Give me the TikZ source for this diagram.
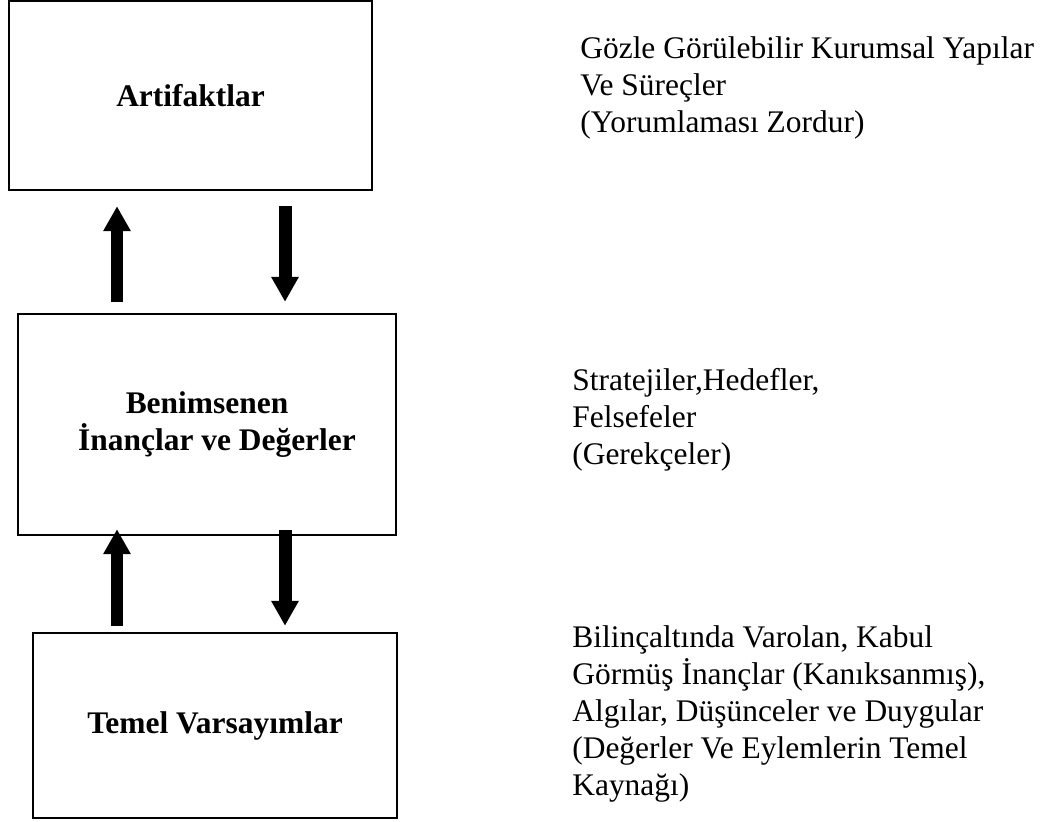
\documentclass[tikz,border=0pt]{standalone}
\usepackage{fontspec}
\setmainfont{Liberation Serif}
\usetikzlibrary{arrows.meta}

\begin{document}
\begin{tikzpicture}[x=0.02cm, y=-0.02cm,
		box/.style={draw, line width=1.4pt, align=center, font=\bfseries\fontsize{17.9}{21}\selectfont},
		note/.style={anchor=base west, inner sep=0pt, align=left, font=\fontsize{17.9}{21}\selectfont},
		bigarrow/.style={line width=0.26cm, -{Triangle[width=0.52cm, length=0.5cm]}}]
		\useasboundingbox (0, 0) rectangle (1059, 822);

		\coordinate (L) at (117, 0);
		\coordinate (R) at (285, 0);

		\node[box, minimum width=7.26cm, minimum height=3.78cm] (art) at (190.5, 95.5) {Artifaktlar};
		\node[box, minimum width=7.56cm, minimum height=4.42cm] (ben) at (207, 424.5) {Benimsenen\\\hspace{0.4cm}İnançlar ve Değerler};
		\node[box, minimum width=7.28cm, minimum height=3.7cm] (tem) at (215, 725.5) {Temel Varsayımlar};

		\draw[bigarrow, shorten <=0.22cm, shorten >=0.3cm] (ben.north -| L) -- (art.south -| L);
		\draw[bigarrow, shorten <=0.3cm, shorten >=0.22cm] (art.south -| R) -- (ben.north -| R);
		\draw[bigarrow, shorten <=0.12cm, shorten >=-0.14cm] (tem.north -| L) -- (ben.south -| L);
		\draw[bigarrow, shorten <=-0.12cm, shorten >=0.12cm] (ben.south -| R) -- (tem.north -| R);

		\node[note] (art text) at (580, 132) {Gözle Görülebilir Kurumsal Yapılar\\Ve Süreçler\\(Yorumlaması Zordur)};
		\node[note] (ben text) at (572, 464) {Stratejiler,Hedefler,\\Felsefeler\\(Gerekçeler)};
		\node[note] (tem text) at (572, 795) {Bilinçaltında Varolan, Kabul\\Görmüş İnançlar (Kanıksanmış),\\Algılar, Düşünceler ve Duygular\\(Değerler Ve Eylemlerin Temel\\Kaynağı)};
	\end{tikzpicture}
\end{document}
